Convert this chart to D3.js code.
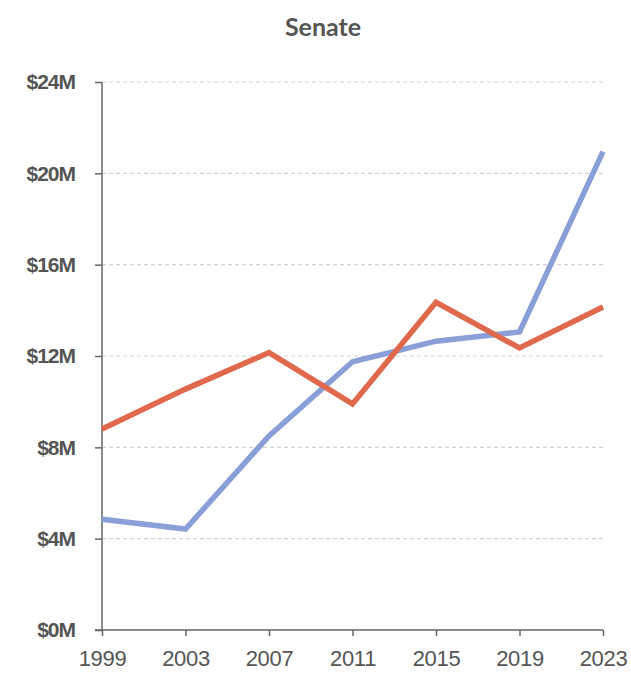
<!DOCTYPE html>
<html>
<head>
<meta charset="utf-8">
<script src="https://cdn.jsdelivr.net/npm/d3@7"></script>
<style>
	body { margin: 0; background: #fff; }
	svg { display: block; font-family: Lato, "Open Sans", sans-serif; }
	.axis path, .axis line { stroke: #666; stroke-width: 1.5; }
	.axis text { fill: #555; }
	.axis.y text { font-family: "Liberation Sans", Arial, sans-serif; font-weight: bold; font-size: 21px; letter-spacing: -1px; }
	.axis.x text { font-family: "Liberation Sans", Arial, sans-serif; font-size: 22px; letter-spacing: -0.3px; }
	.grid line { stroke: #d4d4d4; stroke-dasharray: 4 3; stroke-width: 1.2; }
	.title { font-weight: bold; font-size: 25px; fill: #555; }
</style>
</head>
<body>
<script>
const years = [1999, 2003, 2007, 2011, 2015, 2019, 2023];
const blueValues = [4.85, 4.42, 8.5, 11.75, 12.65, 13.05, 20.95];
const redValues = [8.8, 10.55, 12.15, 9.9, 14.35, 12.35, 14.15];
const yTicks = [0, 4, 8, 12, 16, 20, 24];

const width = 631, height = 675;
const margin = {top: 82, right: 28, bottom: 45, left: 102};

let scale = {
	x: d3.scaleLinear().domain([1999, 2023]).range([0, width - margin.left - margin.right]),
	y: d3.scaleLinear().domain([0, 24]).range([height - margin.top - margin.bottom, 0]),
};

let svg = d3.select("body").append("svg")
	.attr("width", width)
	.attr("height", height);

svg.append("text")
	.attr("class", "title")
	.attr("x", 323)
	.attr("y", 36)
	.attr("text-anchor", "middle")
	.text("Senate");

let g = svg.append("g")
	.attr("transform", `translate(${margin.left}, ${margin.top})`);

g.append("g")
	.attr("class", "grid")
	.selectAll("line")
	.data(yTicks.filter(d => d > 0))
	.join("line")
		.attr("x1", 0)
		.attr("x2", scale.x(2023))
		.attr("y1", d => scale.y(d))
		.attr("y2", d => scale.y(d));

g.append("g")
	.attr("class", "axis y")
	.call(d3.axisLeft(scale.y).tickValues(yTicks).tickSize(7).tickPadding(20).tickFormat(d => `$${d}M`))
	.call(s => s.select(".domain").attr("d", `M0,${scale.y(24)}V${scale.y(0)}`));

g.append("g")
	.attr("class", "axis x")
	.attr("transform", `translate(0, ${scale.y(0)})`)
	.call(d3.axisBottom(scale.x).tickValues(years).tickSize(6).tickPadding(14).tickFormat(d3.format("d")))
	.call(s => s.select(".domain").attr("d", `M-7,0H${scale.x(2023)}`));

let line = (vals) => d3.line()
	.x((d, i) => scale.x(years[i]))
	.y(d => scale.y(d))(vals);

g.append("path")
	.attr("d", line(blueValues))
	.attr("fill", "none")
	.attr("stroke", "#8a9ed8")
	.attr("stroke-width", 5.5);

g.append("path")
	.attr("d", line(redValues))
	.attr("fill", "none")
	.attr("stroke", "#e0684c")
	.attr("stroke-width", 5.5);
</script>
</body>
</html>
